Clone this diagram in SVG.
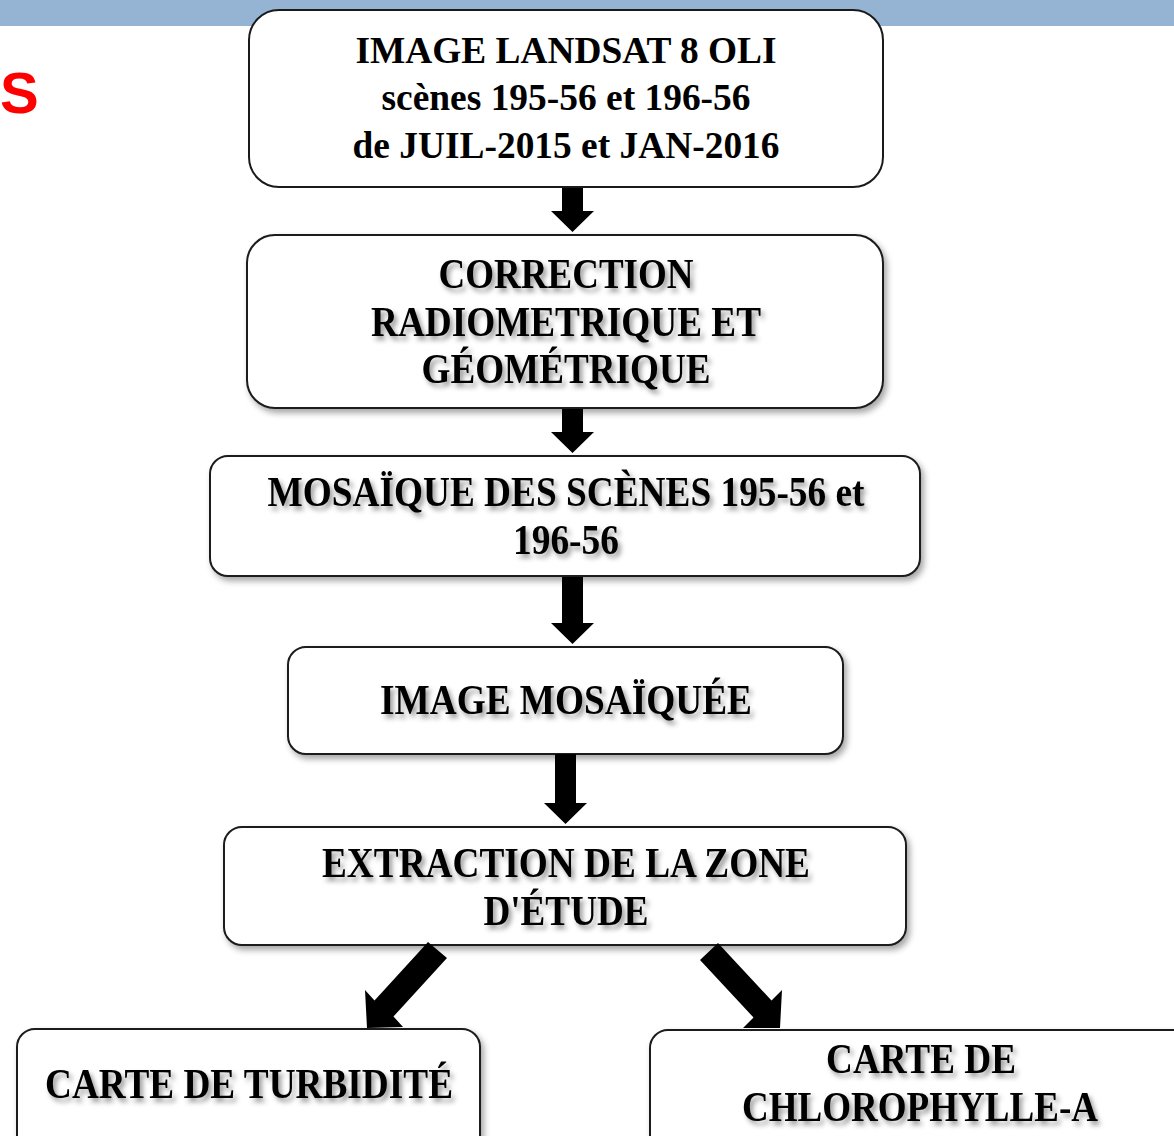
<svg xmlns="http://www.w3.org/2000/svg" width="1174" height="1136" viewBox="0 0 1174 1136">
<defs>
<filter id="boxShadow" x="-10%" y="-10%" width="120%" height="130%">
<feGaussianBlur in="SourceAlpha" stdDeviation="3"/>
<feOffset dx="3" dy="4" result="b"/>
<feFlood flood-color="#000" flood-opacity="0.35"/>
<feComposite in2="b" operator="in" result="s"/>
<feMerge><feMergeNode in="s"/><feMergeNode in="SourceGraphic"/></feMerge>
</filter>
<filter id="textShadow" x="-10%" y="-30%" width="120%" height="160%">
<feGaussianBlur in="SourceAlpha" stdDeviation="2.5"/>
<feOffset dx="3" dy="4" result="b"/>
<feFlood flood-color="#000" flood-opacity="0.4"/>
<feComposite in2="b" operator="in" result="s"/>
<feMerge><feMergeNode in="s"/><feMergeNode in="SourceGraphic"/></feMerge>
</filter>
</defs>
<style>
.box{fill:#fff;stroke:#1a1a1a;stroke-width:2}
.t1{font-family:"Liberation Serif","Times New Roman",serif;font-weight:bold;font-size:37px;fill:#000;text-anchor:middle}
.t{font-family:"Liberation Serif","Times New Roman",serif;font-weight:bold;font-size:43px;fill:#000;text-anchor:middle}
.arrow{fill:#000}
</style>
<rect x="0" y="0" width="1174" height="26" fill="#95b3d3"/>
<text x="0" y="113" font-family="Liberation Sans, Arial, sans-serif" font-weight="bold" font-size="58" fill="#ff0000">S</text>

<g id="node1">
<rect class="box" x="249" y="10" width="634" height="177" rx="30"/>
<text class="t1" x="566" y="63" textLength="421" lengthAdjust="spacingAndGlyphs">IMAGE LANDSAT 8 OLI</text>
<text class="t1" x="566" y="110" textLength="369" lengthAdjust="spacingAndGlyphs">scènes 195-56 et 196-56</text>
<text class="t1" x="566" y="158" textLength="427" lengthAdjust="spacingAndGlyphs">de JUIL-2015 et JAN-2016</text>
</g>

<g id="node2">
<rect class="box" x="247" y="235" width="636" height="173" rx="28" filter="url(#boxShadow)"/>
<g filter="url(#textShadow)">
<text class="t" x="566" y="288" textLength="255" lengthAdjust="spacingAndGlyphs">CORRECTION</text>
<text class="t" x="566" y="336" textLength="390" lengthAdjust="spacingAndGlyphs">RADIOMETRIQUE ET</text>
<text class="t" x="566" y="383" textLength="289" lengthAdjust="spacingAndGlyphs">GÉOMÉTRIQUE</text>
</g>
</g>

<g id="node3">
<rect class="box" x="210" y="456" width="710" height="120" rx="18" filter="url(#boxShadow)"/>
<g filter="url(#textShadow)">
<text class="t" x="566" y="506" textLength="597" lengthAdjust="spacingAndGlyphs">MOSAÏQUE DES SCÈNES 195-56 et</text>
<text class="t" x="566" y="554" textLength="106" lengthAdjust="spacingAndGlyphs">196-56</text>
</g>
</g>

<g id="node4">
<rect class="box" x="288" y="647" width="555" height="107" rx="18" filter="url(#boxShadow)"/>
<g filter="url(#textShadow)">
<text class="t" x="566" y="714" textLength="372" lengthAdjust="spacingAndGlyphs">IMAGE MOSAÏQUÉE</text>
</g>
</g>

<g id="node5">
<rect class="box" x="224" y="827" width="682" height="118" rx="18" filter="url(#boxShadow)"/>
<g filter="url(#textShadow)">
<text class="t" x="566" y="877" textLength="488" lengthAdjust="spacingAndGlyphs">EXTRACTION DE LA ZONE</text>
<text class="t" x="566" y="925" textLength="165" lengthAdjust="spacingAndGlyphs">D'ÉTUDE</text>
</g>
</g>

<g id="node6">
<rect class="box" x="17" y="1029" width="463" height="130" rx="18" filter="url(#boxShadow)"/>
<g filter="url(#textShadow)">
<text class="t" x="249" y="1098" textLength="408" lengthAdjust="spacingAndGlyphs">CARTE DE TURBIDITÉ</text>
</g>
</g>

<g id="node7">
<rect class="box" x="650" y="1030" width="560" height="130" rx="18" filter="url(#boxShadow)"/>
<g filter="url(#textShadow)">
<text class="t" x="921" y="1073" textLength="190" lengthAdjust="spacingAndGlyphs">CARTE DE</text>
<text class="t" x="920" y="1121" textLength="356" lengthAdjust="spacingAndGlyphs">CHLOROPHYLLE-A</text>
</g>
</g>

<g id="connectors">
<polygon class="arrow" points="562,188 583,188 583,211 594,211 572.5,232 551,211 562,211"/>
<polygon class="arrow" points="562,409 583,409 583,432 594,432 572.5,453 551,432 562,432"/>
<polygon class="arrow" points="562,577 583,577 583,623 594,623 572.5,644 551,623 562,623"/>
<polygon class="arrow" points="555,754 576,754 576,803 587,803 565.5,824 544,803 555,803"/>
<polygon class="arrow" points="428,942 447,958 393.5,1016.5 403,1027 367,1028 365,990 374.5,1000.5"/>
<polygon class="arrow" points="718,943 771.5,1000.5 782,990 780,1028 743,1028 753.5,1017.5 700,960"/>
</g>
</svg>
